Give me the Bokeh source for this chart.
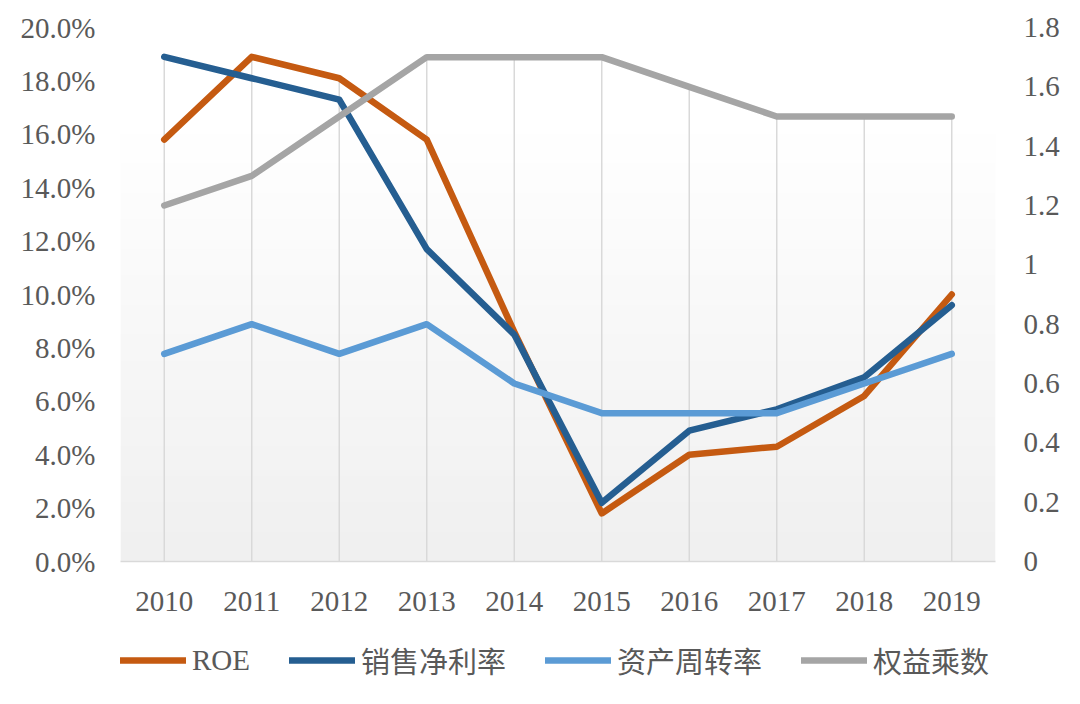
import numpy as np
from bokeh.plotting import figure
from bokeh.layouts import column
from bokeh.models import (Range1d, LinearAxis, FixedTicker, Legend, LegendItem)
from bokeh.embed import file_html
from bokeh.resources import INLINE

# ---- data ----
years = ["2010", "2011", "2012", "2013", "2014", "2015", "2016", "2017", "2018", "2019"]
roe = [15.8, 18.9, 18.1, 15.8, 8.6, 1.8, 4.0, 4.3, 6.2, 10.0]            # %
net_margin = [18.9, 18.1, 17.3, 11.7, 8.5, 2.2, 4.9, 5.7, 6.9, 9.6]       # %
asset_turnover = [0.7, 0.8, 0.7, 0.8, 0.6, 0.5, 0.5, 0.5, 0.6, 0.7]       # right axis
equity_mult = [1.2, 1.3, 1.5, 1.7, 1.7, 1.7, 1.6, 1.5, 1.5, 1.5]          # right axis

left_ticks = [0, 2, 4, 6, 8, 10, 12, 14, 16, 18, 20]
left_labels = ["0.0%", "2.0%", "4.0%", "6.0%", "8.0%", "10.0%", "12.0%", "14.0%", "16.0%", "18.0%", "20.0%"]
right_ticks = [0, 0.2, 0.4, 0.6, 0.8, 1.0, 1.2, 1.4, 1.6, 1.8]
right_labels = ["0", "0.2", "0.4", "0.6", "0.8", "1", "1.2", "1.4", "1.6", "1.8"]

names = ["ROE", "销售净利率", "资产周转率", "权益乘数"]
colors = ["#C55A11", "#255E91", "#5B9BD5", "#A5A5A5"]

FONT = "'Liberation Serif', 'Noto Sans CJK SC'"
TXT = "#595959"
FS = "29px"
LW = 6.5

xs = [i + 0.5 for i in range(len(years))]
L_MAX, R_MAX = 20.0, 1.8

p = figure(width=1064, height=628, output_backend="svg", toolbar_location=None,
           x_range=Range1d(0, len(years)), y_range=Range1d(0, L_MAX))
p.extra_y_ranges = {"right": Range1d(0, R_MAX)}
p.min_border_left = 120
p.min_border_right = 69
p.min_border_top = 27
p.min_border_bottom = 67
p.outline_line_color = None
p.background_fill_color = "white"
p.border_fill_color = "white"
p.grid.visible = False

# background gradient of plot area
nrows = 200
col = np.ones(nrows) * 255.0
yy = np.linspace(0, L_MAX, nrows)
mask = yy < 16
col[mask] = 240 + (yy[mask] / 16.0) * 15
img = np.zeros((nrows, 2), dtype=np.uint32)
view = img.view(dtype=np.uint8).reshape((nrows, 2, 4))
c = col.astype(np.uint8)
view[:, :, 0] = c[:, None]
view[:, :, 1] = c[:, None]
view[:, :, 2] = c[:, None]
view[:, :, 3] = 255
p.image_rgba(image=[img], x=0, y=0, dw=len(years), dh=L_MAX)

# drop lines from highest point of each category
scale = L_MAX / R_MAX
tops = [max(a, b, c_ * scale, d * scale) for a, b, c_, d in zip(roe, net_margin, asset_turnover, equity_mult)]
p.segment(x0=xs, y0=[0] * len(xs), x1=xs, y1=tops, line_color="#D9D9D9", line_width=1.5)

# axes
p.xaxis.ticker = FixedTicker(ticks=xs)
p.xaxis.major_label_overrides = {x: y for x, y in zip(xs, years)}
p.xaxis.axis_line_color = "#D9D9D9"
p.xaxis.axis_line_width = 1.5
p.xaxis.major_tick_line_color = None
p.xaxis.minor_tick_line_color = None
p.xaxis.major_label_text_font = FONT
p.xaxis.major_label_text_font_size = FS
p.xaxis.major_label_text_color = TXT
p.xaxis.major_label_standoff = 24

p.yaxis.ticker = FixedTicker(ticks=left_ticks)
p.yaxis.major_label_overrides = {t: l for t, l in zip(left_ticks, left_labels)}
p.yaxis.axis_line_color = None
p.yaxis.major_tick_line_color = None
p.yaxis.minor_tick_line_color = None
p.yaxis.major_label_text_font = FONT
p.yaxis.major_label_text_font_size = FS
p.yaxis.major_label_text_color = TXT
p.yaxis.major_label_standoff = 19

ra = LinearAxis(y_range_name="right", ticker=FixedTicker(ticks=right_ticks))
ra.major_label_overrides = {t: l for t, l in zip(right_ticks, right_labels)}
ra.axis_line_color = None
ra.major_tick_line_color = None
ra.minor_tick_line_color = None
ra.major_label_text_font = FONT
ra.major_label_text_font_size = FS
ra.major_label_text_color = TXT
ra.major_label_standoff = 22
p.add_layout(ra, "right")

p.line(xs, roe, line_color=colors[0], line_width=LW, line_join="round", line_cap="round")
p.line(xs, net_margin, line_color=colors[1], line_width=LW, line_join="round", line_cap="round")
p.line(xs, asset_turnover, y_range_name="right", line_color=colors[2], line_width=LW,
       line_join="round", line_cap="round")
p.line(xs, equity_mult, y_range_name="right", line_color=colors[3], line_width=LW,
       line_join="round", line_cap="round")

# legend strip below the chart (proxy renderers lie outside the strip's visible range)
lf = figure(width=1064, height=60, output_backend="svg", toolbar_location=None,
            x_axis_type=None, y_axis_type=None, min_border=0,
            x_range=Range1d(0, 1), y_range=Range1d(0, 1))
lf.outline_line_color = None
lf.grid.visible = False
items = []
for n, colr in zip(names, colors):
    r = lf.line(x=[-5, -4], y=[-5, -4], line_color=colr, line_width=LW, line_cap="round")
    items.append(LegendItem(label=n, renderers=[r]))
legend = Legend(items=items, orientation="horizontal", location=(0, 7))
legend.label_text_font = FONT
legend.label_text_font_size = FS
legend.label_text_color = TXT
legend.glyph_width = 66
legend.glyph_height = 36
legend.label_standoff = 6
legend.spacing = 39
legend.border_line_color = None
legend.background_fill_alpha = 0
legend.margin = 0
legend.padding = 0
lf.add_layout(legend, "center")

page = column(p, lf, spacing=0)
open("out.html", "w").write(file_html(page, INLINE))
